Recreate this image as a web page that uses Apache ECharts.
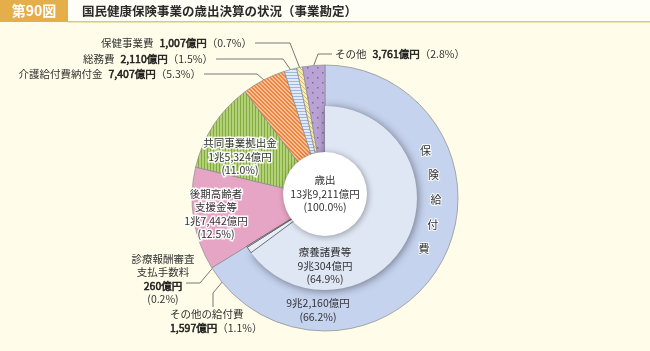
<!DOCTYPE html>
<html><head><meta charset="utf-8">
<script src="https://cdn.jsdelivr.net/npm/echarts@6/dist/echarts.min.js"></script>
<style>html,body{margin:0;padding:0;background:#fffde9;}#c{width:650px;height:351px;}</style>
</head><body><div id="c"></div>
<script>
// ---- data ----
const figureNo = '第90図';
const title = '国民健康保険事業の歳出決算の状況（事業勘定）';
const categories = ['保険給付費','後期高齢者支援金等','共同事業拠出金','介護給付費納付金','総務費','保健事業費','その他'];
const amounts = [92160, 17442, 15324, 7407, 2110, 1007, 3761];      // 億円
const percents = [66.2, 12.5, 11.0, 5.3, 1.5, 0.7, 2.8];
const benefitCats = ['療養諸費等','その他の給付費','診療報酬審査支払手数料'];
const benefitAmounts = [90304, 1597, 260];
const benefitPercents = [64.9, 1.1, 0.2];
const totalName = '歳出';
const totalAmount = 139211;
const totalPercent = 100.0;
const ringTitle = ['保','険','給','付','費'];

// ---- helpers ----
const FONT = '"Noto Sans CJK JP", sans-serif';
const FS = 10.5;
function fmtOku(v){
  const cho = Math.floor(v/10000), oku = v % 10000;
  return (cho ? cho + '兆' : '') + oku.toLocaleString('en-US') + '億円';
}
function pattern(w,h,draw){
  const c = document.createElement('canvas'); c.width = w; c.height = h;
  const g = c.getContext('2d'); draw(g,w,h);
  return {image: c, repeat: 'repeat'};
}
const pGreen = pattern(3,1,(g)=>{g.fillStyle='#b3d178';g.fillRect(0,0,3,1);g.fillStyle='#82aa3e';g.fillRect(0,0,1,1);});
const pOrange = pattern(4,4,(g)=>{g.fillStyle='#f9c296';g.fillRect(0,0,4,4);g.fillStyle='#ee8440';for(let i=0;i<4;i++){g.fillRect(i,i,1,1);g.fillRect((i+1)%4,i,1,1);}});
const pGeneral = pattern(1,3,(g)=>{g.fillStyle='#e2eaf7';g.fillRect(0,0,1,3);g.fillStyle='#9db7e0';g.fillRect(0,0,1,1);});
const pHealth = pattern(4,4,(g)=>{g.fillStyle='#f6ecb8';g.fillRect(0,0,4,4);g.fillStyle='#d6bd6a';for(let i=0;i<4;i++){g.fillRect(i,i,1,1);}});
const pOther = pattern(10,10,(g)=>{g.fillStyle='#b9a3d4';g.fillRect(0,0,10,10);g.fillStyle='#7e66a3';g.fillRect(2,2,1.5,1.5);g.fillRect(7,7,1.5,1.5);});
const outerColors = ['#c6d3ee','#e7a5c6',pGreen,pOrange,pGeneral,pHealth,pOther];

const CX = 325, CY = 198, R = 133, RI = 92;
function anchorAt(frac, r){
  const a = frac*2*Math.PI;
  return [CX + r*Math.sin(a), CY - r*Math.cos(a)];
}
const total = amounts.reduce((a,b)=>a+b,0);
function midFrac(arr, i){
  let s = 0; for(let k=0;k<i;k++) s += arr[k];
  return (s + arr[i]/2)/total;
}

// label placement (layout only)
const outerPos = [
  {x:318,y:310,align:'center'},
  {x:216,y:214,align:'center'},
  {x:240,y:157,align:'center'},
  {x:201,y:74,align:'right',turn:[257,74]},
  {x:213,y:59,align:'right',turn:[283,59]},
  {x:252,y:43,align:'right',turn:[290,43]},
  {x:335,y:54,align:'left',turn:[318,54]}
];
const innerPos = [
  {x:325,y:266,align:'center'},
  {x:170,y:321,align:'left',pts:[[213,293],[213,307]]},
  {x:163,y:279,align:'center',pts:[[200,283],[186,283]],outerAnchor:true}
];

const rich = {
  n:{fontFamily:FONT,fontSize:FS,color:'#333',lineHeight:13.5},
  b:{fontFamily:FONT,fontSize:FS,color:'#1a1a1a',textBorderColor:'#1a1a1a',textBorderWidth:0.5,lineHeight:13.5},
  g:{fontFamily:FONT,fontSize:FS,width:6}
};
const haloRich = {
  n:{fontFamily:FONT,fontSize:FS,color:'#333',lineHeight:13.5,textBorderColor:'rgba(255,255,255,0.9)',textBorderWidth:3}
};

function outerLabel(i){
  const name = categories[i], amt = fmtOku(amounts[i]), pct = percents[i].toFixed(1);
  if(i===0) return '{n|'+amt+'}\n{n|('+pct+'%)}';
  if(i===1) return '{n|'+name.slice(0,5)+'}\n{n|'+name.slice(5)+'}\n{n|'+amt+'}\n{n|('+pct+'%)}';
  if(i===2) return '{n|'+name+'}\n{n|'+amt+'}\n{n|('+pct+'%)}';
  return '{n|'+name+'}{g|}{b|'+amt+'}{n|（'+pct+'%）}';
}
function innerLabel(i){
  const name = benefitCats[i], amt = fmtOku(benefitAmounts[i]), pct = benefitPercents[i].toFixed(1);
  if(i===0) return '{n|'+name+'}\n{n|'+amt+'}\n{n|('+pct+'%)}';
  if(i===1) return '{n|'+name+'}\n{b|'+amt+'}{n|（'+pct+'%）}';
  return '{n|'+name.slice(0,6)+'}\n{n|'+name.slice(6)+'}\n{b|'+amt+'}\n{n|('+pct+'%)}';
}

const outerData = categories.map((name,i)=>({
  name, value: amounts[i],
  itemStyle:{color: outerColors[i]},
  label:{position: i<3 ? 'inside' : 'outside', formatter: outerLabel(i),
    rich: (i===1||i===2) ? haloRich : rich},
  labelLine:{show: i>=3}
}));

const benefitSum = benefitAmounts.reduce((a,b)=>a+b,0);
const innerColors = ['#dfe6f4','#e9eef8','#eef2fa'];
const innerData = benefitCats.map((name,i)=>({
  name, value: benefitAmounts[i],
  itemStyle: i===0 ? {color: innerColors[i], shadowBlur:8, shadowColor:'rgba(0,0,0,0.45)', shadowOffsetX:1, shadowOffsetY:1}
                   : {color: innerColors[i], borderColor:'#555', borderWidth:0.8},
  label:{position: i===0 ? 'inside' : 'outside', formatter: innerLabel(i), rich},
  labelLine:{show: i>0}
}));
innerData.push({name:'_rest', value: total - benefitSum,
  itemStyle:{color:'rgba(0,0,0,0)', borderWidth:0}, label:{show:false}, labelLine:{show:false}});

const chart = echarts.init(document.getElementById('c'));
const ringGraphics = ringTitle.map((ch,k)=>{
  const a = (65 + 13*k) * Math.PI/180;
  return {type:'text', x: CX + 111*Math.sin(a), y: CY - 111*Math.cos(a),
    style:{text: ch, fontFamily: FONT, fontSize: 11, fill:'#333', align:'center', verticalAlign:'middle',
      stroke:'rgba(255,255,255,0.85)', lineWidth:2}, z:100};
});

chart.setOption({
  backgroundColor:'#fffde9',
  animation:false,
  graphic:[
    {type:'rect', shape:{x:0,y:0,width:650,height:22}, style:{fill:'#fffef6'}},
    {type:'rect', shape:{x:0,y:0,width:68,height:22}, style:{fill:'#e4af4b'}},
    {type:'rect', shape:{x:68,y:21,width:582,height:1.5}, style:{fill:'#e9c27a'}},
    {type:'text', x:34, y:11, style:{text: figureNo, fontFamily:FONT, fontSize:14, fontWeight:'bold', fill:'#fff', align:'center', verticalAlign:'middle'}},
    {type:'text', x:82, y:11, style:{text: title, fontFamily:FONT, fontSize:12.5, fontWeight:'bold', fill:'#2a2a2a', align:'left', verticalAlign:'middle'}},
    ...ringGraphics
  ],
  series:[
    {
      type:'pie', center:[CX,CY], radius:[0,R], startAngle:90, clockwise:true,
      avoidLabelOverlap:false, silent:true, emphasis:{disabled:true},
      itemStyle:{borderColor:'#8a8a8a', borderWidth:0.7},
      labelLine:{lineStyle:{color:'#555', width:0.8}},
      data: outerData,
      labelLayout: function(p){
        const i = p.dataIndex, c = outerPos[i];
        const res = {x:c.x, y:c.y, align:c.align, verticalAlign:'middle'};
        if(c.turn){
          const a = anchorAt(midFrac(amounts,i), R);
          const endX = c.align==='right' ? c.x+3 : c.x-3;
          res.labelLinePoints = [a, c.turn, [endX, c.y]];
        }
        return res;
      }
    },
    {
      type:'pie', center:[CX,CY], radius:[0,RI], startAngle:90, clockwise:true,
      avoidLabelOverlap:false, silent:true, emphasis:{disabled:true},
      labelLine:{lineStyle:{color:'#555', width:0.8}},
      data: innerData,
      labelLayout: function(p){
        const i = p.dataIndex, c = innerPos[i];
        if(!c) return {};
        const res = {x:c.x, y:c.y, align:c.align, verticalAlign:'middle'};
        if(c.pts){
          const a = anchorAt(midFrac(benefitAmounts,i), c.outerAnchor ? R : RI);
          res.labelLinePoints = [a, c.pts[0], c.pts[1]];
        }
        return res;
      }
    },
    {
      type:'pie', center:[CX,194], radius:[0,42], silent:true, emphasis:{disabled:true},
      itemStyle:{color:'#ffffff', shadowBlur:6, shadowColor:'rgba(0,0,0,0.35)', shadowOffsetX:1, shadowOffsetY:1},
      label:{position:'center', rich,
        formatter: '{n|'+totalName+'}\n{n|'+fmtOku(totalAmount)+'}\n{n|('+totalPercent.toFixed(1)+'%)}'},
      labelLine:{show:false},
      data:[{name: totalName, value: totalAmount}]
    }
  ]
});
</script></body></html>
